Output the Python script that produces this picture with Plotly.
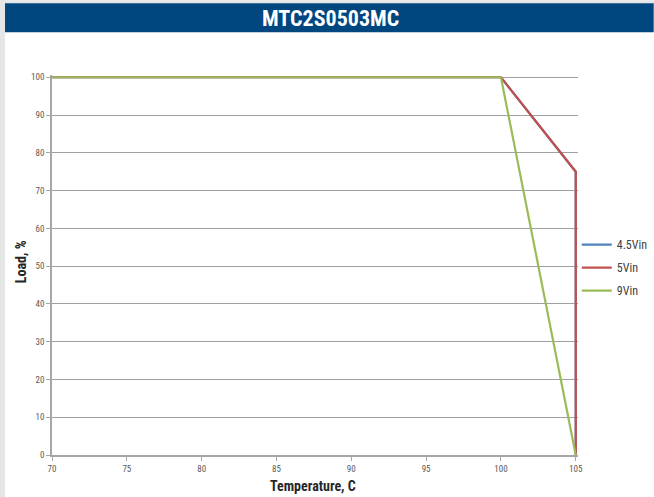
import plotly.graph_objects as go

title_text = "MTC2S0503MC"
x_title = "Temperature, C"
y_title = "Load, %"
series_names = ["4.5Vin", "5Vin", "9Vin"]
x_45 = [70, 100, 105, 105]
y_45 = [100, 100, 75, 0]
x_5 = [70, 100, 105, 105]
y_5 = [100, 100, 75, 0]
x_9 = [70, 100, 105]
y_9 = [100, 100, 0]
colors = ["#4F81BD", "#C0504D", "#9BBB59"]
x_ticks = [70, 75, 80, 85, 90, 95, 100, 105]
y_ticks = [0, 10, 20, 30, 40, 50, 60, 70, 80, 90, 100]

W, H = 654, 497
# pixel positions of the data extremes (70 / 105, 0 / 100)
X0, X1, Y100, Y0 = 52, 576, 77, 455
xpad, ypad = 0.15, 0.6
L = X0
R = X1 + xpad * (X1 - X0) / 35.0
B = Y0
T = Y100 - ypad * (Y0 - Y100) / 100.0

def px(x):
    return (x - L) / (R - L)

def py(y):
    return (B - y) / (B - T)

fig = go.Figure()
for i, (name, xs, ys, c) in enumerate([(series_names[0], x_45, y_45, colors[0]),
                                       (series_names[1], x_5, y_5, colors[1]),
                                       (series_names[2], x_9, y_9, colors[2])]):
    fig.add_trace(go.Scatter(x=xs, y=ys, mode="lines", name=name,
                             legendgroup="g%d" % i,
                             line=dict(color=c, width=2.2)))

font_c = "Liberation Sans Narrow, Roboto Condensed, Arial Narrow, Roboto, sans-serif"

fig.update_layout(
    width=W, height=H,
    margin=dict(l=L, r=W - R, t=T, b=H - B, autoexpand=False),
    paper_bgcolor="white", plot_bgcolor="white",
    showlegend=True,
    legend=dict(x=px(577), y=py(230), xanchor="left", yanchor="top",
                font=dict(family=font_c, size=12, color="#404040"),
                traceorder="grouped", tracegroupgap=4,
                itemwidth=30, bgcolor="rgba(0,0,0,0)"),
    xaxis=dict(range=[70, 105 + xpad], tickvals=x_ticks, showgrid=False,
               showline=True, linecolor="#a6a6a6", linewidth=1.5,
               ticks="outside", ticklen=4, tickcolor="#a6a6a6",
               tickfont=dict(family=font_c, size=9, color="#595959"),
               zeroline=False, automargin=False),
    yaxis=dict(range=[0, 100 + ypad], tickvals=y_ticks, showgrid=True,
               gridcolor="#a0a0a0", gridwidth=1,
               showline=True, linecolor="#a6a6a6", linewidth=1.5,
               ticks="outside", ticklen=4, tickcolor="#a6a6a6",
               tickfont=dict(family=font_c, size=9, color="#595959"),
               zeroline=False, automargin=False),
    shapes=[
        dict(type="rect", xref="paper", yref="paper",
             x0=px(0), x1=px(W), y0=py(0), y1=py(3),
             fillcolor="#e6e6e6", line=dict(width=0), layer="below"),
        dict(type="rect", xref="paper", yref="paper",
             x0=px(0), x1=px(5), y0=py(0), y1=py(H),
             fillcolor="#e6e6e6", line=dict(width=0), layer="below"),
        dict(type="rect", xref="paper", yref="paper",
             x0=px(5), x1=px(W), y0=py(3), y1=py(32),
             fillcolor="#00467F", line=dict(width=0), layer="below"),
    ],
    annotations=[
        dict(text="<b>" + title_text + "</b>", xref="paper", yref="paper",
             x=px(331), y=py(18), xanchor="center", yanchor="middle",
             showarrow=False,
             font=dict(family=font_c, size=22, color="white")),
        dict(text="<b>" + x_title + "</b>", xref="paper", yref="paper",
             x=px(313), y=py(486), xanchor="center", yanchor="middle",
             showarrow=False,
             font=dict(family=font_c, size=14, color="#262626")),
        dict(text="<b>" + y_title + "</b>", xref="paper", yref="paper",
             x=px(21), y=py(262), xanchor="center", yanchor="middle",
             textangle=-90, showarrow=False,
             font=dict(family=font_c, size=14, color="#262626")),
    ],
)

fig.write_html("out.html", config={"displayModeBar": False},
               post_script="document.body.style.margin='0';document.body.style.overflow='hidden';")
